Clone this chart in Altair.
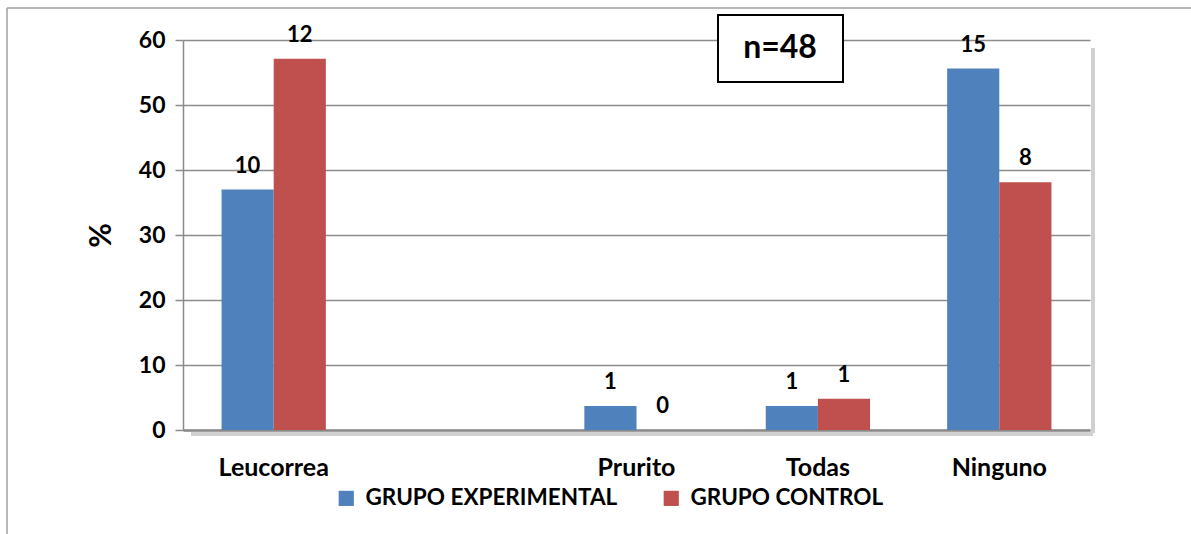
import altair as alt
import pandas as pd

categories = ["Leucorrea", " ", "Prurito", "Todas", "Ninguno"]
groups = ["GRUPO EXPERIMENTAL", "GRUPO CONTROL"]
exp_pct = [37.0, None, 3.7, 3.7, 55.6]
ctl_pct = [57.1, None, 0.0, 4.8, 38.1]
exp_n = [10, None, 1, 1, 15]
ctl_n = [12, None, 0, 1, 8]
colors = ["#4F81BD", "#C0504D"]

rows = []
for c, ep, cp, en, cn in zip(categories, exp_pct, ctl_pct, exp_n, ctl_n):
    if ep is not None:
        rows.append({"cat": c, "grupo": groups[0], "pct": ep, "n": str(en)})
    if cp is not None:
        rows.append({"cat": c, "grupo": groups[1], "pct": cp, "n": str(cn)})
df = pd.DataFrame(rows)

FONT = "Lato"
W, H = 907, 390

x = alt.X("cat:N", sort=categories,
          scale=alt.Scale(domain=categories, paddingInner=0.425, paddingOuter=0.2125),
          axis=alt.Axis(title=None, labelAngle=0))
y = alt.Y("pct:Q", scale=alt.Scale(domain=[0, 60], nice=False),
          axis=alt.Axis(title="%", values=[0, 10, 20, 30, 40, 50, 60]))
xo = alt.XOffset("grupo:N", sort=groups, scale=alt.Scale(domain=groups, paddingInner=0, paddingOuter=0))
color = alt.Color("grupo:N", sort=groups,
                  scale=alt.Scale(domain=groups, range=colors),
                  legend=alt.Legend(title=None, orient="none", direction="horizontal",
                                    legendX=152, legendY=447, symbolType="square",
                                    symbolSize=230, symbolStrokeWidth=0, symbolOpacity=1,
                                    labelFont=FONT, labelFontSize=22.5, labelFontWeight="bold",
                                    labelColor="black", columnPadding=42, labelOffset=8,
                                    labelLimit=0))

bars = alt.Chart(df).mark_bar(opacity=1).encode(x=x, y=y, color=color, xOffset=xo)

labels = alt.Chart(df).mark_text(font=FONT, fontSize=22, fontWeight="bold", color="black",
                                 baseline="bottom", dy=-12).encode(
    x=x, y=y, xOffset=xo, text="n:N",
)

box_df = pd.DataFrame({"t": ["n=48"]})
box = alt.Chart(box_df).mark_rect(fill="white", stroke="black", strokeWidth=2).encode(
    x=alt.value(718 - 183), x2=alt.value(843 - 183),
    y=alt.value(15 - 40), y2=alt.value(82 - 40),
)
box_text = alt.Chart(box_df).mark_text(font=FONT, fontSize=32, fontWeight="bold", color="black",
                                       align="center", baseline="middle").encode(
    x=alt.value(780 - 183), y=alt.value(48 - 40), text="t:N",
)

border_top = alt.Chart(box_df).mark_rule(color="#a0a0a0", strokeWidth=1.5).encode(
    x=alt.value(7 - 183), x2=alt.value(1191 - 183), y=alt.value(8 - 40),
)
border_left = alt.Chart(box_df).mark_rule(color="#a0a0a0", strokeWidth=1.5).encode(
    x=alt.value(7 - 183), y=alt.value(8 - 40), y2=alt.value(534 - 40),
)
shadow_r = alt.Chart(box_df).mark_rule(color="#d0d0d0", strokeWidth=4).encode(
    x=alt.value(W + 3), y=alt.value(8), y2=alt.value(H + 3),
)
shadow_b = alt.Chart(box_df).mark_rule(color="#d0d0d0", strokeWidth=4).encode(
    x=alt.value(8), x2=alt.value(W + 3), y=alt.value(H + 4),
)

chart = alt.layer(border_top, border_left, shadow_r, shadow_b, bars, labels, box, box_text).properties(
    width=W, height=H,
    autosize=alt.AutoSizeParams(type="none"),
    padding={"left": 183, "top": 40, "right": 1191 - 183 - W, "bottom": 534 - 40 - H},
    background="white",
).configure_view(stroke=None).configure_axisY(
    grid=True, titleFont=FONT, titleFontSize=30, titleFontWeight="bold",
    titleColor="black", titlePadding=22,
    labelFont=FONT, labelFontSize=23, labelFontWeight="bold", labelColor="black",
    labelPadding=10, tickSize=8, tickColor="#8a8a8a", tickWidth=1.5,
    domainColor="#8a8a8a", domainWidth=1.5,
    gridColor="#8c8c8c", gridWidth=1.5,
).configure_axisX(
    grid=False, labelFont=FONT, labelFontSize=25, labelFontWeight="bold", labelColor="black",
    ticks=False, domainColor="#8a8a8a", domainWidth=2.5, labelPadding=25,
)

chart.save("out.html", embed_options={"renderer": "svg", "actions": False})
